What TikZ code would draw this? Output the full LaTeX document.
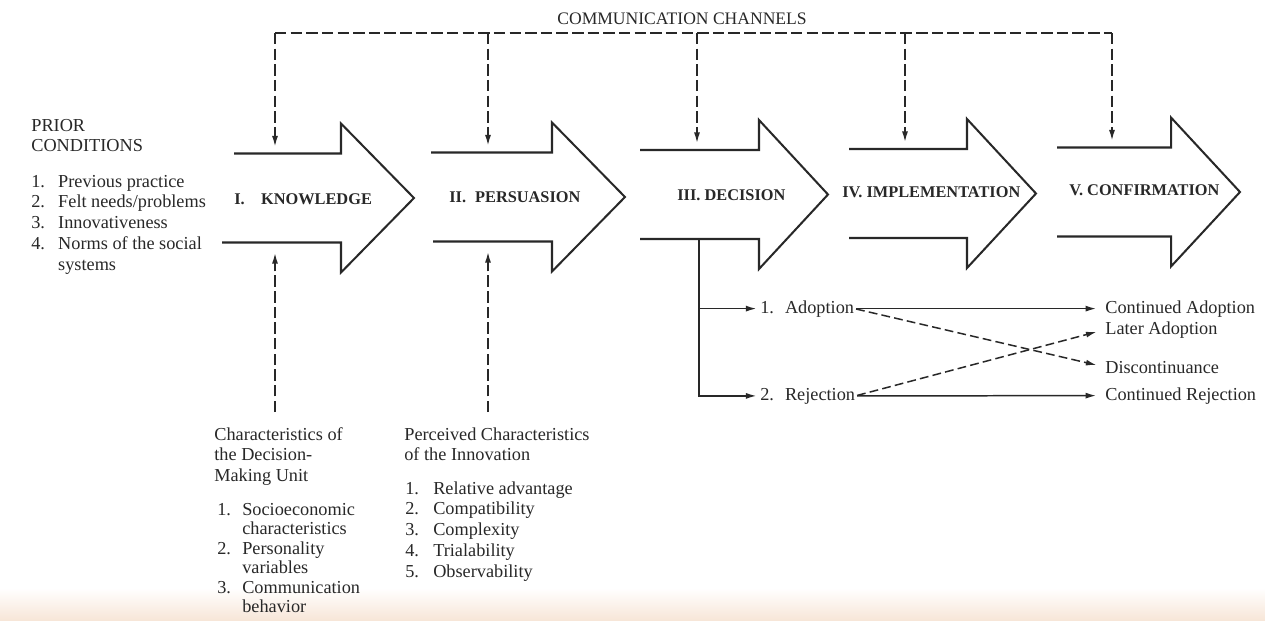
\documentclass[tikz,border=0pt]{standalone}
\usepackage{fontspec}
\setmainfont{Liberation Serif}
\usetikzlibrary{arrows.meta}
\definecolor{ink}{RGB}{40,40,40}
\definecolor{peach}{RGB}{247,230,216}
% #1 name, #2 x top-left, #3 x bottom-left, #4 x notch, #5 x tip, #6 centre y
\newcommand\StageArrow[6]{%
  \draw[stageline] (#2,#6-44.5) -- (#4,#6-44.5) -- (#4,#6-74.5) -- (#5,#6)
    -- (#4,#6+74.5) -- (#4,#6+44.5) -- (#3,#6+44.5);
  \coordinate (#1-top) at (#2,#6-44.5);
}
\newcommand\NumList[2]{\begin{tabular}[t]{@{}p{#1}@{}l@{}}#2\end{tabular}}
\newcommand\Lines[1]{\begin{tabular}[t]{@{}l@{}}#1\end{tabular}}
\begin{document}
\begin{tikzpicture}[x=0.02cm,y=-0.02cm,
  font=\fontsize{10.4}{11.9}\selectfont, text=ink,
  stageline/.style={draw=ink, line width=1.15pt, line join=miter},
  chan/.style={draw=ink, line width=0.85pt, dash pattern=on 6.5pt off 2.4pt},
  chanarr/.style={chan, -{Latex[length=6pt,width=3.4pt]}},
  flow/.style={draw=ink, line width=0.85pt, -{Latex[length=6pt,width=3.4pt]}},
  cross/.style={flow, dash pattern=on 5pt off 2.4pt},
  stagelabel/.style={font=\fontsize{9.3}{11}\selectfont\bfseries, anchor=west, inner sep=0pt},
  txt/.style={anchor=base west, inner sep=0pt},
]
\useasboundingbox (0,0) rectangle (1265,620);
\fill[white] (0,0) rectangle (1265,620);
\shade[top color=white, bottom color=peach] (0,588) rectangle (1265,620);

% ---- stage arrows ----
\StageArrow{a1}{234}{222}{341}{414}{198}
\StageArrow{a2}{431}{433}{552}{625}{197}
\StageArrow{a3}{640}{640}{759}{828}{194.5}
\StageArrow{a4}{849}{849}{967}{1036}{193.5}
\StageArrow{a5}{1057}{1057}{1171}{1240}{192}

\node[stagelabel] (know) at (234,199) {I.\hspace{1em}KNOWLEDGE};
\node[stagelabel] (pers) at (449,197) {II.\hspace{0.55em}PERSUASION};
\node[stagelabel] (deci) at (677,195) {III.\ DECISION};
\node[stagelabel] (impl) at (842,192) {IV.\ IMPLEMENTATION};
\node[stagelabel] (conf) at (1069,190) {V.\ CONFIRMATION};

% ---- communication channels ----
\node[txt, font=\fontsize{10}{12}\selectfont] (cc) at (557,24) {COMMUNICATION CHANNELS};
\coordinate (c1) at (275,33);
\coordinate (c2) at (488,33);
\coordinate (c3) at (697,33);
\coordinate (c4) at (905,33);
\coordinate (c5) at (1112,33);
\coordinate (in1) at (275,146.5);
\coordinate (in2) at (488,145.5);
\coordinate (in3) at (697,143);
\coordinate (in4) at (905,142);
\coordinate (in5) at (1112,140.5);
\draw[chan] (c1) -- (c5);
\draw[chanarr] (c1) -- (in1);
\draw[chanarr] (c2) -- (in2);
\draw[chanarr] (c3) -- (in3);
\draw[chanarr] (c4) -- (in4);
\draw[chanarr] (c5) -- (in5);

% ---- prior conditions ----
\node[txt] (prior) at (31,131) {\Lines{PRIOR\\CONDITIONS}};
\node[txt] (priorlist) at (31,187) {\NumList{15.3pt}{%
  1. & Previous practice\\
  2. & Felt needs/problems\\
  3. & Innovativeness\\
  4. & Norms of the social\\
     & systems}};

% ---- decision-making unit ----
\node[txt] (dmu) at (214,440) {\Lines{Characteristics of\\the Decision-\\Making Unit}};
\node[txt, font=\fontsize{10.4}{11.1}\selectfont] (dmulist) at (217,515) {\NumList{14.2pt}{%
  1. & Socioeconomic\\
     & characteristics\\
  2. & Personality\\
     & variables\\
  3. & Communication\\
     & behavior}};
\coordinate (u1) at (275,412);
\coordinate (k1) at (275,253);
\draw[chanarr] (u1) -- (k1);

% ---- perceived characteristics ----
\node[txt] (pci) at (404,440) {\Lines{Perceived Characteristics\\of the Innovation}};
\node[txt] (pcilist) at (405,494) {\NumList{15.9pt}{%
  1. & Relative advantage\\
  2. & Compatibility\\
  3. & Complexity\\
  4. & Trialability\\
  5. & Observability}};
\coordinate (u2) at (488,412);
\coordinate (k2) at (488,252);
\draw[chanarr] (u2) -- (k2);

% ---- decision outcomes ----
\coordinate (decout) at (699,239);
\node[txt] (adopt) at (760,313) {1.\hspace{0.6em}Adoption};
\node[txt] (reject) at (760,400) {2.\hspace{0.6em}Rejection};
\node[txt] (contad) at (1105,313) {Continued Adoption};
\node[txt] (later) at (1105,334) {Later Adoption};
\node[txt] (discont) at (1105,373) {Discontinuance};
\node[txt] (contrej) at (1105,400) {Continued Rejection};

\draw[flow, shorten >=2pt] (decout) |- (adopt.west);
\draw[flow, shorten >=2pt] (decout) |- (reject.west);
\draw[flow, shorten <=1pt, shorten >=5pt] (adopt.east) -- (contad.west);
\draw[flow, shorten <=1pt, shorten >=5pt] (reject.east) -- (contrej.west);
\draw[cross, shorten <=1pt, shorten >=5pt] (adopt.east) -- (discont.west);
\draw[cross, shorten <=1pt, shorten >=5pt] (reject.east) -- (later.west);
\end{tikzpicture}
\end{document}
